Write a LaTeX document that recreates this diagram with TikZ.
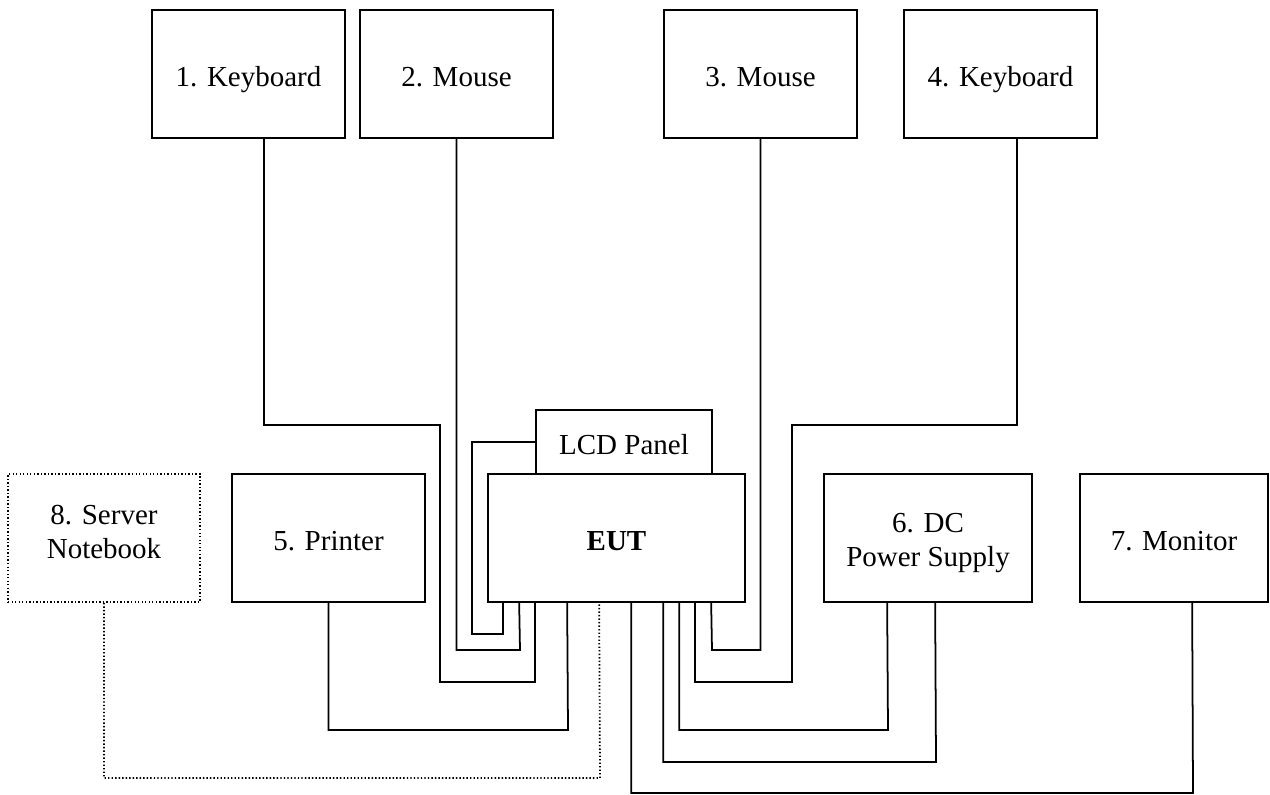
\documentclass[tikz,border=0pt]{standalone}
\usepackage{fontspec}
\setmainfont{Liberation Serif}
\usepackage{tikz}
\usetikzlibrary{calc}

\begin{document}
\begin{tikzpicture}[
    x=0.02cm, y=-0.02cm,
    font=\fontsize{16.5}{19.5}\selectfont,
    unit/.style={
        draw,
        line width=1pt,
        align=center,
        inner sep=0pt,
        text height=14.5pt,
        text depth=0.3pt,
        minimum width=3.86cm,
        minimum height=2.56cm
    },
    remote/.style={
        unit,
        dash pattern=on 0.8pt off 1.2pt
    },
    cable/.style={draw, line width=1pt},
    link/.style={draw, dash pattern=on 0.8pt off 1.2pt, line width=1pt}
]
\useasboundingbox (0,0) rectangle (1270,794);

% peripherals on top
\node[unit] (kbda) at (248.5,74) {1. Keyboard};
\node[unit] (mousea) at (456.5,74) {2. Mouse};
\node[unit] (mouseb) at (760.5,74) {3. Mouse};
\node[unit] (kbdb) at (1000.5,74) {4. Keyboard};

% row with the EUT
\node[remote, minimum width=3.84cm, text height=23.5pt] (server) at (104,538) {8. Server\\Notebook};
\node[unit] (printer) at (328.5,538) {5. Printer};
\node[unit, minimum width=5.14cm] (eut) at (616.5,538) {\textbf{EUT}};
\node[unit, minimum width=3.52cm, minimum height=1.28cm] (lcd) at (624,442) {LCD Panel};
\node[unit, minimum width=4.16cm, text height=32.5pt] (dc) at (928,538) {6. DC\\Power Supply};
\node[unit, minimum width=3.76cm] (monitor) at (1174,538) {7. Monitor};

% cables
\draw[cable] ($(kbda.south)+(15.5,0)$) |- (440,425) -- (440,682) -| ($(eut.south west)+(48,0)$);
\draw[cable] (mousea.south) |- (520,650) -- ($(eut.south west)+(32,0)$);
\draw[cable] (lcd.west) -| (472,634) -| ($(eut.south west)+(16,0)$);
\draw[cable] (printer.south) |- (568,730) -- ($(eut.south west)+(80,0)$);
\draw[link] (server.south) |- (600,778) -- ($(eut.south west)+(112,0)$);
\draw[cable] ($(eut.south west)+(144,0)$) |- (1193,793) -- ($(monitor.south west)+(113,0)$);
\draw[cable] ($(eut.south west)+(176,0)$) |- (936,762) -- ($(dc.south west)+(112,0)$);
\draw[cable] ($(eut.south west)+(192,0)$) |- (888,730) -- ($(dc.south west)+(64,0)$);
\draw[cable] ($(kbdb.south)+(16.5,0)$) |- (792,425) -- (792,682) -| ($(eut.south west)+(208,0)$);
\draw[cable] (mouseb.south) |- (712,650) -- ($(eut.south west)+(224,0)$);

\end{tikzpicture}
\end{document}
